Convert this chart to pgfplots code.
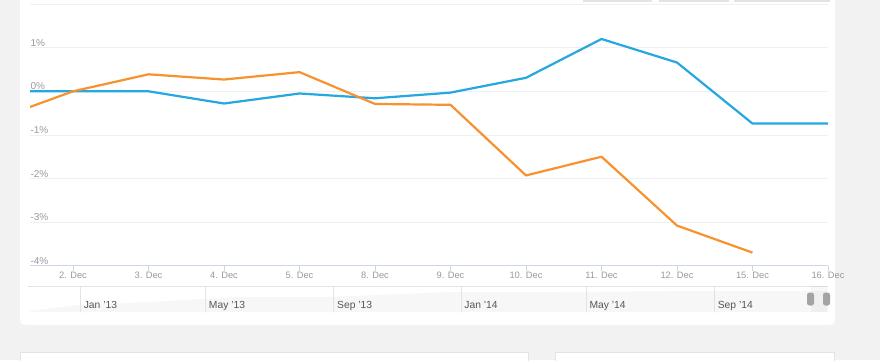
\documentclass[border=0pt]{standalone}
\usepackage{pgfplots}
\pgfplotsset{compat=1.18}
\usepackage{fontspec}
\setmainfont{Liberation Sans}
\definecolor{bg}{HTML}{F2F2F2}
\definecolor{blueL}{HTML}{25A7E0}
\definecolor{orangeL}{HTML}{F7922F}
\definecolor{gridC}{HTML}{F0F0F0}
\definecolor{axisC}{HTML}{CCD6EB}
\definecolor{labC}{HTML}{9A9A9A}
\definecolor{navC}{HTML}{E3E3E3}
\definecolor{navFill}{HTML}{F7F7F7}
\definecolor{navLab}{HTML}{555555}
\definecolor{handleC}{HTML}{A3A3A3}
\begin{document}
\begin{tikzpicture}
\fill[bg] (0pt,0pt) rectangle (880pt,360pt);
\fill[white, rounded corners=5pt] (20pt,35pt) rectangle (835pt,375pt);
% top buttons (cut off)
\fill[navC] (583pt,358.3pt) rectangle (652pt,360pt);
\fill[navC] (659pt,358.3pt) rectangle (729pt,360pt);
\fill[navC] (734pt,358.3pt) rectangle (830pt,360pt);
% bottom boxes
\filldraw[fill=white, draw=navC] (20.5pt,-5pt) rectangle (528pt,8pt);
\filldraw[fill=white, draw=navC] (555pt,-5pt) rectangle (834.5pt,8pt);

% main chart
\begin{axis}[at={(30pt,94.3pt)}, anchor=south west, scale only axis,
  width=798pt, height=261.6pt,
  xmin=-0.57, xmax=10, ymin=-4, ymax=2,
  axis x line*=bottom, axis y line*=left,
  y axis line style={draw=none},
  x axis line style={draw=axisC, line width=0.8pt},
  xtick={0,...,10},
  xticklabels={2. Dec,3. Dec,4. Dec,5. Dec,8. Dec,9. Dec,10. Dec,11. Dec,12. Dec,15. Dec,16. Dec},
  ytick={-4,-3,-2,-1,0,1},
  yticklabels={-4\%,-3\%,-2\%,-1\%,0\%,1\%},
  extra y ticks={2}, extra y tick labels={},
  ymajorgrids, grid style={draw=gridC, line width=0.8pt},
  ytick style={draw=none},
  xtick style={draw=axisC, line width=0.8pt},
  tick align=outside, major tick length=5pt,
  xticklabel style={font=\fontsize{9.3}{10}\selectfont, text=labC, yshift=2pt},
  yticklabel style={font=\fontsize{10}{11}\selectfont, text=labC, anchor=base west, xshift=2pt, yshift=1.5pt},
  clip=true,
]
\addplot[blueL, line width=2.2pt, line join=round] coordinates {
(-1,0) (0,0) (1,0) (2,-0.28) (3,-0.05) (4,-0.16) (5,-0.03) (6,0.31) (7,1.20) (8,0.66) (9,-0.74) (10,-0.74)};
\addplot[orangeL, line width=2.2pt, line join=round] coordinates {
(-1,-0.63) (0,0) (1,0.39) (2,0.27) (3,0.44) (4,-0.29) (5,-0.31) (6,-1.93) (7,-1.50) (8,-3.08) (9,-3.70)};
\end{axis}

% navigator
\begin{axis}[at={(30pt,48pt)}, anchor=south west, scale only axis,
  width=798pt, height=26pt,
  xmin=-48.2, xmax=717, ymin=0, ymax=26,
  axis line style={draw=none},
  axis on top,
  ytick=\empty,
  xtick={0,120,243,365,485,608},
  xticklabels={Jan '13,May '13,Sep '13,Jan '14,May '14,Sep '14},
  xmajorgrids, grid style={draw=navC, line width=0.8pt},
  xtick style={draw=none},
  xticklabel style={font=\fontsize{10.3}{11}\selectfont, text=navLab, anchor=base west, yshift=3.5pt, xshift=0pt},
  clip=true,
]
\addplot[fill=navFill, draw=none] coordinates {
(-48,1) (0,7) (67,10) (153,15) (239,15) (355,20) (460,20) (594,21) (717,21)} \closedcycle;
\end{axis}
\draw[navC, line width=0.8pt] (28pt,74pt) -- (828pt,74pt);
\fill[black, opacity=0.03] (810.5pt,48pt) rectangle (827pt,74pt);
\fill[handleC, rounded corners=2.5pt] (807pt,54.5pt) rectangle (814pt,67.5pt);
\fill[handleC, rounded corners=2.5pt] (823pt,54.5pt) rectangle (830pt,67.5pt);
\pgfresetboundingbox
\useasboundingbox (0pt,0pt) rectangle (880pt,360pt);
\end{tikzpicture}
\end{document}
